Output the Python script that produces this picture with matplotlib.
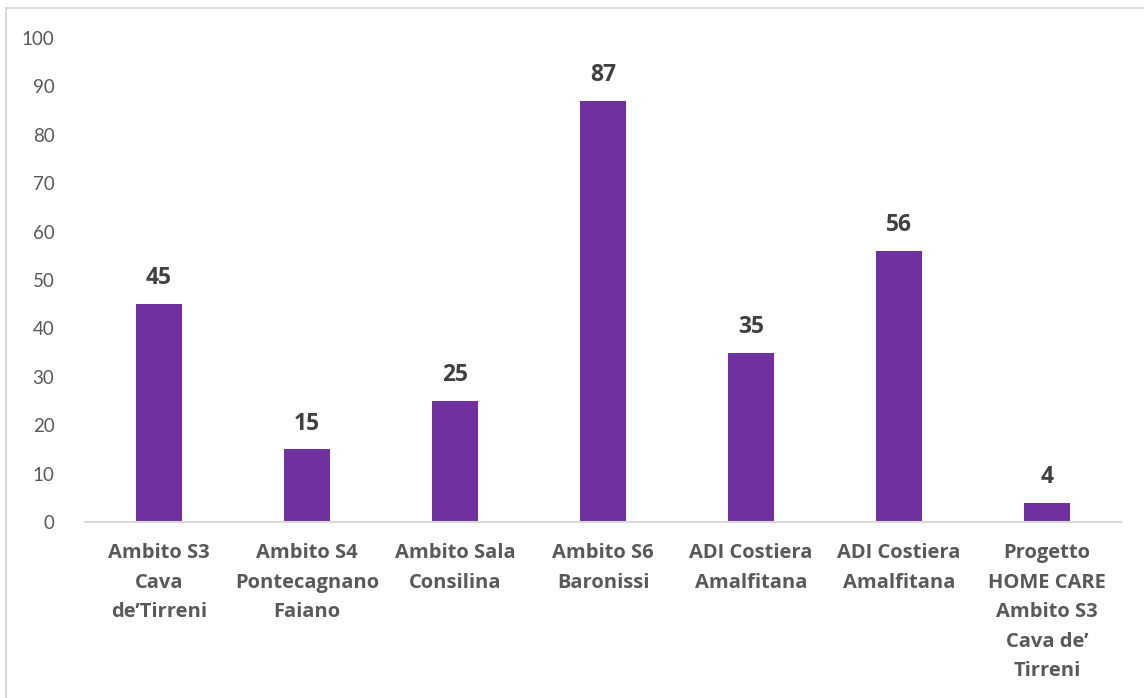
import matplotlib
matplotlib.use("Agg")
import matplotlib.pyplot as plt
import numpy as np

# dati del grafico
categorie = [
    "Ambito S3\nCava\nde\u2019Tirreni",
    "Ambito S4\nPontecagnano\nFaiano",
    "Ambito Sala\nConsilina",
    "Ambito S6\nBaronissi",
    "ADI Costiera\nAmalfitana",
    "ADI Costiera\nAmalfitana",
    "Progetto\nHOME CARE\nAmbito S3\nCava de\u2019\nTirreni",
]
valori = [45, 15, 25, 87, 35, 56, 4]
yticks = [0, 10, 20, 30, 40, 50, 60, 70, 80, 90, 100]

plt.rcParams['font.family'] = ['Lato', 'DejaVu Sans']
grassetto = ['Open Sans', 'DejaVu Sans']

fig = plt.figure(figsize=(11.44, 6.98), dpi=100)
ax = fig.add_axes([0.0743, 0.252, 0.9057, 0.6936])

x = np.arange(len(valori))
ax.bar(x, valori, width=0.31, color='#7030A0')

for xi, v in zip(x, valori):
    ax.annotate(str(v), (xi, v), xytext=(0, 10), textcoords='offset points',
                ha='center', va='bottom', fontsize=16.5, fontweight='bold',
                family=grassetto, color='#404040')

ax.set_xlim(-0.5, len(valori) - 0.5)
ax.set_ylim(0, 100)
ax.set_yticks(yticks)
ax.set_xticks(x)
ax.set_xticklabels(categorie, fontsize=14.5, fontweight='bold', family=grassetto,
                   color='#595959', linespacing=1.64, va='top')
ax.tick_params(axis='y', length=0, pad=22, labelsize=13.5, labelcolor='#595959')
ax.tick_params(axis='x', length=0, pad=15)

for s in ['left', 'right', 'top']:
    ax.spines[s].set_visible(False)
ax.spines['bottom'].set_color('#d9d9d9')
ax.spines['bottom'].set_linewidth(1.5)

# cornice del grafico (tagliata)
bordo = plt.Rectangle((6 / 1144, -0.1), 1.2, 1 - 8.5 / 698 + 0.1, transform=fig.transFigure,
                      fill=False, edgecolor='#d9d9d9', linewidth=1.5)
fig.patches.append(bordo)

fig.savefig("out.png", dpi=100)
